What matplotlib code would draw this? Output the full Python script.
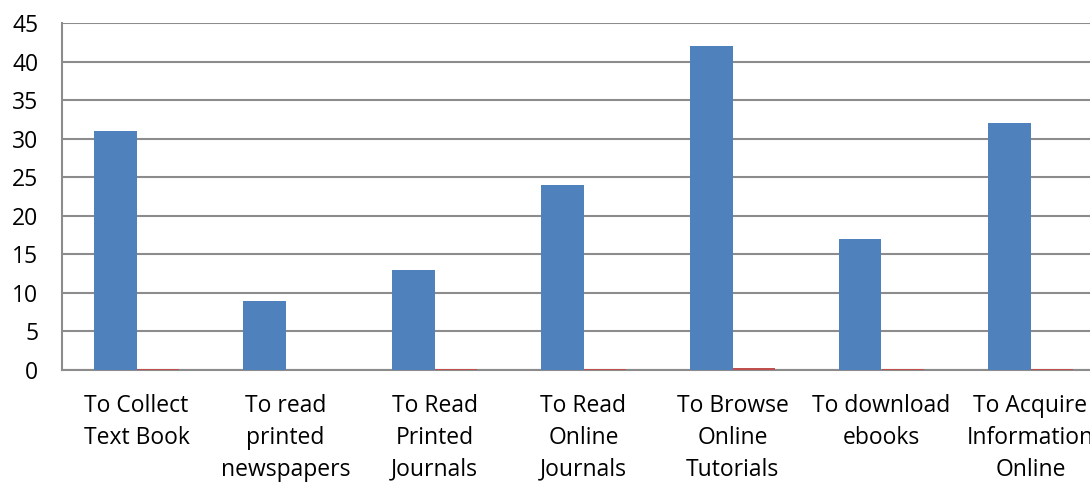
import numpy as np
import matplotlib

matplotlib.use("Agg")
import matplotlib.pyplot as plt

categories = [
    "To Collect\nText Book",
    "To read\nprinted\nnewspapers",
    "To Read\nPrinted\nJournals",
    "To Read\nOnline\nJournals",
    "To Browse\nOnline\nTutorials",
    "To download\nebooks",
    "To Acquire\nInformation\nOnline",
]
series1 = [31, 9, 13, 24, 42, 17, 32]
series2 = [0.1, 0.05, 0.1, 0.1, 0.25, 0.1, 0.15]
y_ticks = [0, 5, 10, 15, 20, 25, 30, 35, 40, 45]

plt.rcParams["font.family"] = ["Open Sans", "DejaVu Sans"]

fig = plt.figure(figsize=(10.9, 4.82), dpi=100)
ax = fig.add_axes([62 / 1090, 1 - 370 / 482, 1043 / 1090, 347 / 482])

x = np.arange(len(categories))
w = 1 / 3.5
ax.bar(x - w / 2, series1, width=w, color="#4F81BD", zorder=3)
ax.bar(x + w / 2, series2, width=w, color="#C0504D", zorder=3)

ax.set_xlim(-0.5, len(categories) - 0.5)
ax.set_ylim(0, 45)
ax.set_yticks(y_ticks)
ax.yaxis.grid(True, color="#8c8c8c", linewidth=1.5, zorder=0)
ax.set_xticks(x)
ax.set_xticklabels(categories, fontsize=16.5, linespacing=1.45)
ax.tick_params(axis="x", length=0, pad=17)
ax.tick_params(axis="y", length=0, pad=17, labelsize=16.5)

for side in ["top", "right"]:
    ax.spines[side].set_visible(False)
ax.spines["left"].set_color("#8c8c8c")
ax.spines["bottom"].set_color("#8c8c8c")
ax.spines["left"].set_linewidth(1.5)
ax.spines["bottom"].set_linewidth(1.5)

fig.savefig("out.png", dpi=100)
